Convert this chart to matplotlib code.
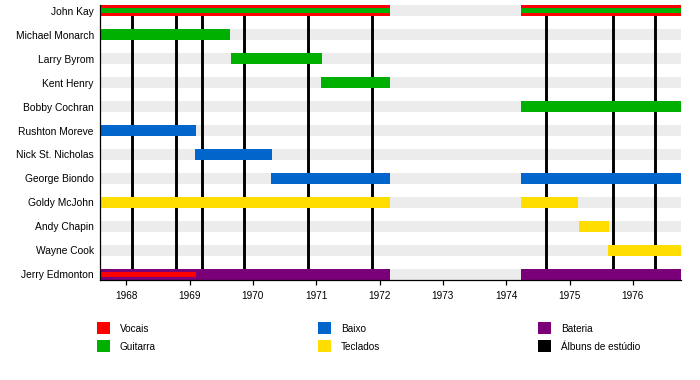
import matplotlib
matplotlib.use("Agg")
import matplotlib.pyplot as plt
from matplotlib.patches import Rectangle

plt.rcParams['font.family'] = ['Liberation Sans', 'DejaVu Sans']

# ---------------- data ----------------
members = ["John Kay", "Michael Monarch", "Larry Byrom", "Kent Henry", "Bobby Cochran",
           "Rushton Moreve", "Nick St. Nicholas", "George Biondo", "Goldy McJohn",
           "Andy Chapin", "Wayne Cook", "Jerry Edmonton"]

period_start = 1967.585
period_end = 1976.76

# main bars
bar_members = ["John Kay", "John Kay", "Michael Monarch", "Larry Byrom", "Kent Henry",
               "Bobby Cochran", "Rushton Moreve", "Nick St. Nicholas", "George Biondo",
               "George Biondo", "Goldy McJohn", "Goldy McJohn", "Andy Chapin", "Wayne Cook",
               "Jerry Edmonton", "Jerry Edmonton"]
bar_starts = [1967.585, 1974.235, 1967.585, 1969.654, 1971.076,
              1974.235, 1967.585, 1969.085, 1970.286,
              1974.235, 1967.585, 1974.235, 1975.15, 1975.61,
              1967.585, 1974.235]
bar_ends = [1972.17, 1976.76, 1969.64, 1971.09, 1972.17,
            1976.76, 1969.096, 1970.30, 1972.17,
            1976.76, 1972.16, 1975.135, 1975.625, 1976.76,
            1972.17, 1976.76]
bar_roles = ["Vocais", "Vocais", "Guitarra", "Guitarra", "Guitarra",
             "Guitarra", "Baixo", "Baixo", "Baixo",
             "Baixo", "Teclados", "Teclados", "Teclados", "Teclados",
             "Bateria", "Bateria"]

# thin secondary-role stripes
stripe_members = ["John Kay", "John Kay", "Jerry Edmonton"]
stripe_starts = [1967.585, 1974.235, 1967.585]
stripe_ends = [1972.17, 1976.76, 1969.10]
stripe_roles = ["Guitarra", "Guitarra", "Vocais"]

album_years = [1968.085, 1968.785, 1969.20, 1969.864, 1970.875, 1971.877,
               1974.626, 1975.69, 1976.357]

tick_years = [1968, 1969, 1970, 1971, 1972, 1973, 1974, 1975, 1976]

legend_labels = ["Vocais", "Guitarra", "Baixo", "Teclados", "Bateria", "Álbuns de estúdio"]

role_colors = {"Vocais": "#ff0000", "Guitarra": "#00b000", "Baixo": "#0066cc",
               "Teclados": "#ffdd00", "Bateria": "#7a007a", "Álbuns de estúdio": "#000000"}

# ---------------- figure ----------------
W, H = 700, 380
fig = plt.figure(figsize=(W / 100, H / 100), dpi=100)
ax = fig.add_axes([100 / W, (H - 280) / H, 581 / W, 275 / H])

row = {m: i for i, m in enumerate(members)}
bh = 0.48

# gray background bands
ax.barh(range(len(members)), period_end - period_start, left=period_start, height=bh,
        color="#ececec", zorder=1, linewidth=0)

# album lines
for yv in album_years:
    ax.axvline(yv, color="black", linewidth=2.1, zorder=2)

# main bars
for m, s, e, r in zip(bar_members, bar_starts, bar_ends, bar_roles):
    ax.barh(row[m], e - s, left=s, height=bh, color=role_colors[r], zorder=3, linewidth=0)

# stripes
for m, s, e, r in zip(stripe_members, stripe_starts, stripe_ends, stripe_roles):
    ax.barh(row[m], e - s, left=s, height=bh * 0.4, color=role_colors[r], zorder=4, linewidth=0)

ax.set_xlim(period_start, period_end)
ax.set_ylim(len(members) - 1 + bh / 2, -bh / 2)

ax.set_yticks(range(len(members)))
ax.set_yticklabels(members, fontsize=7.4)
ax.tick_params(axis="y", length=0, pad=4.5)
ax.set_xticks(tick_years)
ax.set_xticklabels([str(t) for t in tick_years], fontsize=7.2)
ax.tick_params(axis="x", length=3.6, width=0.9, pad=4)

for sp in ["top", "right"]:
    ax.spines[sp].set_visible(False)
ax.spines["left"].set_linewidth(0.9)
ax.spines["bottom"].set_linewidth(0.9)
ax.spines["left"].set_zorder(5)
ax.spines["bottom"].set_zorder(5)

# legend (manual, three columns)
col_x = [97, 318, 538]
row_y = [322, 340]
for i, lab in enumerate(legend_labels):
    c, r = divmod(i, 2)
    x0, y0 = col_x[c], row_y[r]
    fig.patches.append(Rectangle((x0 / W, 1 - (y0 + 12) / H), 13 / W, 12 / H,
                                 transform=fig.transFigure, facecolor=role_colors[lab],
                                 edgecolor="none"))
    fig.text((x0 + 23) / W, 1 - (y0 + 6.5) / H, lab, fontsize=7.2, va="center", ha="left")

fig.savefig("out.png", dpi=100)
